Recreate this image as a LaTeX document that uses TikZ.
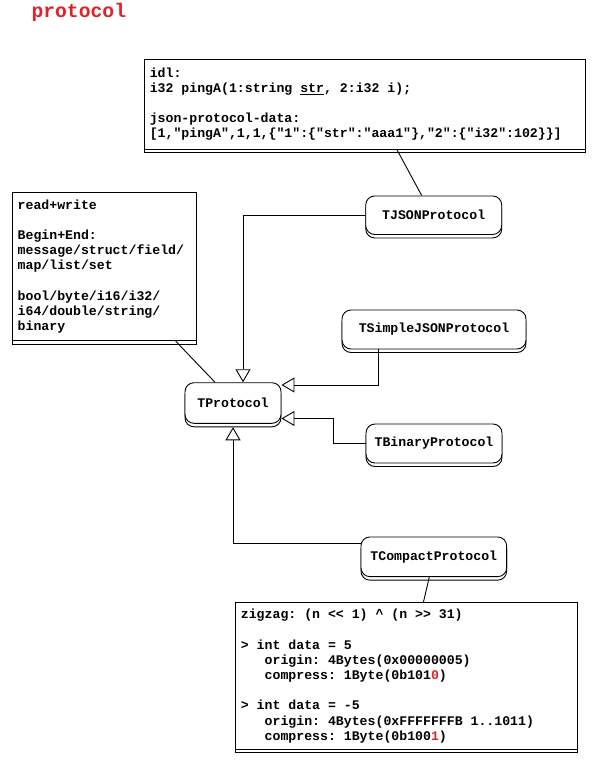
\documentclass[tikz,border=0pt]{standalone}
\usepackage{fontspec}
\setmonofont{Liberation Mono}
\usepackage{tikz}
\usetikzlibrary{arrows.meta, shadows}

\definecolor{notered}{RGB}{226,32,38}

\tikzset{
  shadowed/.style = {fill = white, draw = black, line width = 0.9pt,
    copy shadow = {shadow xshift = 0pt, shadow yshift = -3.5pt, fill = white, draw = black, line width = 0.9pt}},
  notebox/.style = {shadowed, rectangle, align = flush left, inner xsep = 5pt, inner ysep = 4pt,
    font = \ttfamily\bfseries\fontsize{13.2}{15.2}\selectfont},
  classbox/.style = {shadowed, rounded corners = 9pt, minimum height = 39pt, inner sep = 0pt,
    font = \ttfamily\bfseries\fontsize{13.2}{15.2}\selectfont},
  link/.style = {line width = 0.9pt},
  inherit/.style = {line width = 0.9pt, -{Triangle[open, length = 13pt, width = 15pt]}}
}

\begin{document}
\begin{tikzpicture}[x = 1pt, y = -1pt]
\useasboundingbox (0,0) rectangle (593,768);

\node[anchor = west, text = notered, font = \ttfamily\bfseries\fontsize{19.7}{20}\selectfont] (title) at (28,12) {protocol};

\node[notebox, text width = 431pt, minimum height = 90.3pt] (idl) at (365.3,104.2) {idl:\\
i32 pingA(1:string \underline{str}, 2:i32 i);\\[15.2pt]
json-protocol-data:\\{}[1,"pingA",1,1,\{"1":\{"str":"aaa1"\},"2":\{"i32":102\}\}]};

\node[notebox, text width = 174pt, minimum height = 148.7pt] (rw) at (104.7,266.4) {read+write\\[15.2pt]
Begin+End:\\
message/struct/field/\\
map/list/set\\[15.2pt]
bool/byte/i16/i32/\\
i64/double/string/\\
binary};

\node[notebox, text width = 332pt, minimum height = 146.6pt] (zz) at (406.9,676) {zigzag: (n << 1) \textasciicircum{} (n >> 31)\\[15.2pt]
> int data = 5\\
\hspace*{23.8pt}origin: 4Bytes(0x00000005)\\
\hspace*{23.8pt}compress: 1Byte(0b101\textcolor{notered}{0})\\[15.2pt]
> int data = -5\\
\hspace*{23.8pt}origin: 4Bytes(0xFFFFFFFB 1..1011)\\
\hspace*{23.8pt}compress: 1Byte(0b100\textcolor{notered}{1})};

\node[classbox, minimum width = 136pt, minimum height = 38.5pt] (json) at (433.7,215.2) {TJSONProtocol};
\node[classbox, minimum width = 184pt] (simple) at (434,329.5) {TSimpleJSONProtocol};
\node[classbox, minimum width = 96pt, minimum height = 40.6pt] (proto) at (233,403) {TProtocol};
\node[classbox, minimum width = 136pt] (binary) at (434,443.5) {TBinaryProtocol};
\node[classbox, minimum width = 145.7pt, minimum height = 39.7pt] (compact) at (433.8,556.8) {TCompactProtocol};

\draw[link] ([xshift = 31.7pt]idl.south) -- ([xshift = -12pt]json.north);
\draw[link] ([xshift = 71pt]rw.south) -- ([xshift = -18pt]proto.north);
\draw[link] ([xshift = -4.5pt]compact.south) -- ([xshift = 16.5pt]zz.north);

\draw[inherit] (json.west) -| ([xshift = 10pt]proto.north);
\draw[inherit] ([xshift = -56pt]simple.south) |- ([yshift = 18pt]proto.east);
\draw[inherit] (binary.west) -- ++(-32,0) |- ([yshift = -15.5pt]proto.east);
\draw[inherit] ([yshift = 13.5pt]compact.west) -| ([yshift = -3.5pt]proto.south);
\end{tikzpicture}
\end{document}
